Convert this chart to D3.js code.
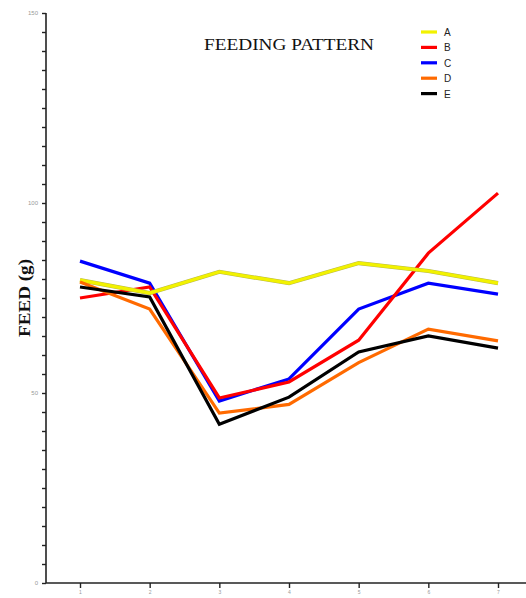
<!DOCTYPE html>
<html><head><meta charset="utf-8">
<script src="https://cdn.jsdelivr.net/npm/d3@7"></script>
<style>body{margin:0;background:#fff}svg{display:block}</style>
</head><body>
<script>
const days = [1,2,3,4,5,6,7];
const seriesNames = ["A","B","C","D","E"];
const seriesColors = ["#f2f200","#ff0000","#0000ff","#ff6a00","#000000"];
const A = [79.7,76.3,81.9,78.9,84.2,82.1,78.9];
const B = [75.0,77.9,48.7,52.9,63.9,86.8,102.6];
const C = [84.7,78.9,47.9,53.7,72.1,78.9,76.0];
const D = [79.2,72.1,44.7,47.0,58.0,66.8,63.7];
const E = [77.9,75.3,41.8,48.9,60.8,65.0,61.8];
const yLabels = [0,50,100,150];
const allSeries = [A,B,C,D,E];

const W=526,H=598;
const svg=d3.select("body").append("svg").attr("width",W).attr("height",H);
const x=d3.scaleLinear().domain([1,7]).range([80,498]);
const y=d3.scaleLinear().domain([0,150]).range([583,13]);

// y axis
const yAxis=d3.axisLeft(y).tickValues(d3.range(0,151,5)).tickSize(4)
  .tickFormat(d=>yLabels.includes(d)?d:"");
const gy=svg.append("g").attr("transform","translate(46,0)").call(yAxis);
gy.select(".domain").attr("d","M0,"+y(150)+"V"+y(0)).attr("stroke","#222").attr("stroke-width",1.6);
gy.selectAll(".tick line").attr("stroke","#222").attr("stroke-width",1.4);
gy.selectAll(".tick text").attr("font-size",6).attr("fill","#999").attr("font-family","Liberation Sans, Arial").attr("x",-8);

// x axis
const xAxis=d3.axisBottom(x).tickValues(days).tickSize(5).tickFormat(d3.format("d"));
const gx=svg.append("g").attr("transform","translate(0,583)").call(xAxis);
gx.select(".domain").attr("d","M46,0H526").attr("stroke","#222").attr("stroke-width",1.6);
gx.selectAll(".tick line").attr("stroke","#222").attr("stroke-width",1.4);
gx.selectAll(".tick text").attr("font-size",5).attr("fill","#999").attr("font-family","Liberation Sans, Arial").attr("y",7);

// lines
const line=d3.line().x((d,i)=>x(days[i])).y(d=>y(d));
const order=[2,1,0,3,4];
order.forEach(k=>{
  if(k===0){
    svg.append("path").attr("d",line(allSeries[k])).attr("fill","none")
      .attr("stroke","#b8b84a").attr("stroke-width",4.2).attr("stroke-linejoin","miter");
  }
  svg.append("path").attr("d",line(allSeries[k])).attr("fill","none")
    .attr("stroke",seriesColors[k]).attr("stroke-width",3.2).attr("stroke-linejoin","miter");
});

// title
svg.append("text").attr("x",204).attr("y",50)
  .attr("font-family","Liberation Serif, Times New Roman, serif").attr("font-size",17)
  .attr("textLength",170).attr("lengthAdjust","spacingAndGlyphs")
  .attr("fill","#111").text("FEEDING PATTERN");

// y label
svg.append("text").attr("transform","translate(30,337) rotate(-90)")
  .attr("font-family","Liberation Serif, Times New Roman, serif").attr("font-size",16).attr("font-weight","bold")
  .attr("textLength",78).attr("lengthAdjust","spacingAndGlyphs")
  .attr("fill","#111").text("FEED (g)");

// legend
seriesNames.forEach((n,i)=>{
  const ly=32+i*15.4;
  svg.append("line").attr("x1",421).attr("x2",437).attr("y1",ly).attr("y2",ly)
    .attr("stroke",seriesColors[i]).attr("stroke-width",3.2);
  svg.append("text").attr("x",444).attr("y",ly+4).attr("font-family","Liberation Sans, Arial")
    .attr("font-size",10).attr("fill","#222").text(n);
});
</script>
</body></html>
